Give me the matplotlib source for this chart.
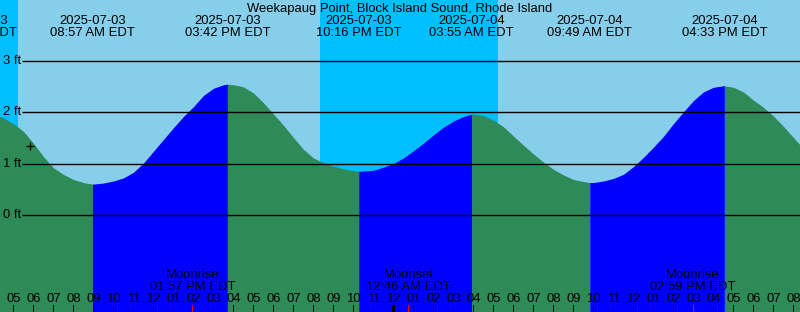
"""Tide chart: Weekapaug Point, Block Island Sound, Rhode Island."""

from datetime import datetime

import numpy as np
import matplotlib
matplotlib.use("Agg")  # no display
import matplotlib.pyplot as plt
from matplotlib.transforms import blended_transform_factory

# ── Colours ────────────────────────────────────────────────────────
DAY_SKY = "#87ceeb"
NIGHT_SKY = "#00bfff"
RISING = "#0000ff"
FALLING = "#2e8b57"
MOON_TICK = "#ff0000"
FONT = "Liberation Sans"
FS = 9.4

TITLE = "Weekapaug Point, Block Island Sound, Rhode Island"
DAY0 = datetime(2025, 7, 3)

# ── Data ───────────────────────────────────────────────────────────
# high / low tides (EDT) and their heights in feet
tide_stamps = ["2025-07-03 03:04 AM", "2025-07-03 08:57 AM",
               "2025-07-03 03:42 PM", "2025-07-03 10:16 PM",
               "2025-07-04 03:55 AM", "2025-07-04 09:49 AM",
               "2025-07-04 04:33 PM", "2025-07-04 10:45 PM"]
tide_ft = [2.10, 0.60, 2.55, 0.85, 1.97, 0.63, 2.52, 0.80]

# water level read every half hour, hours counted from 2025-07-03 00:00
curve_hours = np.arange(4, 45.5, 0.5)
curve_ft = [1.98, 1.89, 1.78, 1.63, 1.40, 1.14, 0.92, 0.79, 0.69, 0.63,   # 04-08:30
            0.60, 0.62, 0.66, 0.72, 0.83, 1.01, 1.24, 1.47, 1.70, 1.92,   # 09-13:30
            2.11, 2.33, 2.47, 2.54, 2.54, 2.50, 2.38, 2.19, 1.97, 1.75,   # 14-18:30
            1.51, 1.28, 1.11, 1.02, 0.95, 0.90, 0.86, 0.855, 0.87, 0.93,  # 19-23:30
            1.00, 1.11, 1.25, 1.40, 1.56, 1.71, 1.83, 1.92, 1.97, 1.94,   # 24-28:30
            1.85, 1.72, 1.54, 1.36, 1.19, 1.03, 0.89, 0.78, 0.69, 0.65,   # 29-33:30
            0.63, 0.66, 0.71, 0.79, 0.94, 1.12, 1.32, 1.53, 1.78, 2.01,   # 34-38:30
            2.23, 2.40, 2.49, 2.52, 2.49, 2.40, 2.24, 2.10, 1.93, 1.73,   # 39-43:30
            1.51, 1.29, 1.10]                                             # 44-45

# nights: sunset -> sunrise
night_start = ["2025-07-02 08:21 PM", "2025-07-03 08:21 PM"]
night_end = ["2025-07-03 05:14 AM", "2025-07-04 05:15 AM"]

moon_events = ["Moonrise", "Moonset", "Moonrise"]
moon_stamps = ["2025-07-03 01:57 PM", "2025-07-04 12:46 AM",
               "2025-07-04 02:59 PM"]

now_stamp = "2025-07-03 05:51 AM"
now_ft = 1.34

feet_ticks = [0, 1, 2, 3]
hour_ticks = np.arange(5, 45)

# ── Window ─────────────────────────────────────────────────────────
X_START, X_SPAN = 4.33, 40.0          # hours shown (20 px per hour)
Y_LOW, Y_HIGH = -1.898, 4.195          # feet shown
W_PX, H_PX = 800, 312
PX_H = X_SPAN / W_PX                   # one pixel, in hours


def to_hours(stamp):
    dt = datetime.strptime(stamp, "%Y-%m-%d %I:%M %p")
    return (dt - DAY0).total_seconds() / 3600.0


def px_y(py):
    """pixel row from the top -> axes fraction"""
    return 1 - py / H_PX


tide_h = np.array([to_hours(s) for s in tide_stamps])
moon_h = np.array([to_hours(s) for s in moon_stamps])

fig = plt.figure(figsize=(W_PX / 100, H_PX / 100), dpi=100)
ax = fig.add_axes([0, 0, 1, 1])
ax.set_xlim(X_START, X_START + X_SPAN)
ax.set_ylim(Y_LOW, Y_HIGH)
ax.set_facecolor(DAY_SKY)
ax.set_xticks([])
ax.set_yticks([])
for sp in ax.spines.values():
    sp.set_visible(False)
trans = blended_transform_factory(ax.transData, ax.transAxes)

# night shading
for a, b in zip(night_start, night_end):
    ax.axvspan(to_hours(a), to_hours(b), color=NIGHT_SKY, lw=0)

# water: blue while rising, green while falling
t_all = np.concatenate([curve_hours, tide_h])
f_all = np.concatenate([curve_ft, tide_ft])
order = np.argsort(t_all)
t_all, f_all = t_all[order], f_all[order]
for i in range(len(tide_h) - 1):
    m = (t_all >= tide_h[i]) & (t_all <= tide_h[i + 1])
    color = RISING if tide_ft[i + 1] > tide_ft[i] else FALLING
    ax.fill_between(t_all[m], Y_LOW - 1, f_all[m], color=color,
                    lw=0, antialiased=False)

# feet grid + labels
ax.hlines(feet_ticks, X_START + 22 / 20, X_START + X_SPAN,
          color="black", lw=1.0)
for ft in feet_ticks:
    ax.text(X_START + 2.7 / 20, ft, f"{ft} ft", ha="left", va="center",
            fontsize=FS, family=FONT, color="black")

# current level marker
ax.plot([to_hours(now_stamp)], [now_ft], marker="+", ms=6, mew=0.9,
        color="black", ls="none")

# title + tide times
ax.text(X_START + X_SPAN / 2, px_y(12), TITLE, transform=trans,
        ha="center", va="baseline", fontsize=FS, family=FONT)
for h, stamp in zip(tide_h, tide_stamps):
    if not (X_START - 3 < h < X_START + X_SPAN):
        continue
    ax.text(h, px_y(24), stamp[:10], transform=trans, ha="center",
            va="baseline", fontsize=FS, family=FONT, clip_on=False)
    ax.text(h, px_y(36), stamp[11:] + " EDT", transform=trans,
            ha="center", va="baseline", fontsize=FS, family=FONT,
            clip_on=False)

# moon events
for h, name, stamp in zip(moon_h, moon_events, moon_stamps):
    ax.text(h, px_y(278), name, transform=trans, ha="center",
            va="baseline", fontsize=FS, family=FONT)
    ax.text(h, px_y(289.5), stamp[11:] + " EDT", transform=trans,
            ha="center", va="baseline", fontsize=FS, family=FONT)

# hour ticks as thin bars (1 px, midnight 3 px)
tick_w = [3 * PX_H if h % 24 == 0 else PX_H for h in hour_ticks]
ax.bar(hour_ticks, 7 / H_PX, width=tick_w, bottom=px_y(H_PX),
       transform=trans, color="black", lw=0, antialiased=False,
       zorder=4)
for h in hour_ticks:
    ax.text(h, px_y(302), f"{(h - 1) % 12 + 1:02d}", transform=trans,
            ha="center", va="baseline", fontsize=FS, family=FONT)
ax.bar(moon_h, 7 / H_PX, width=PX_H, bottom=px_y(H_PX),
       transform=trans, color=MOON_TICK, lw=0, antialiased=False,
       zorder=5)

fig.savefig("out.png", dpi=100)
plt.close(fig)
